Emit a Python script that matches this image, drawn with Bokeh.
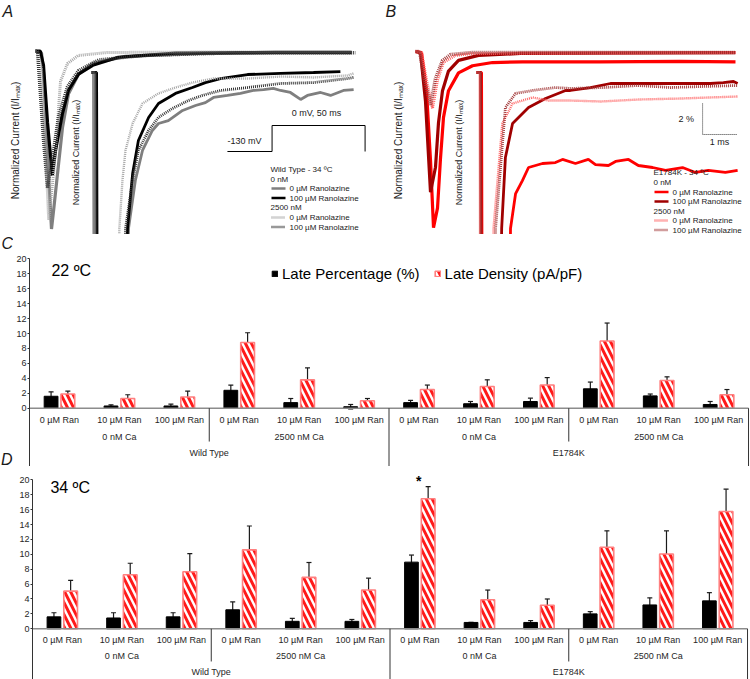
import numpy as np
from bokeh.plotting import figure
from bokeh.layouts import column, row
from bokeh.models import (Range1d, ColumnDataSource, FixedTicker, Legend, LegendItem,
                          Whisker, TeeHead, Spacer)
from bokeh.core.properties import value
from bokeh.embed import file_html
from bokeh.resources import INLINE

FONT = "Liberation Sans"

# ======================= DATA: bar charts (C, D) =======================
genotypes = ["Wild Type", "E1784K"]
calcium = ["0 nM Ca", "2500 nM Ca"]
ranolazine = ["0 µM Ran", "10 µM Ran", "100 µM Ran"]
series_names = ["Late Percentage (%)", "Late Density (pA/pF)"]
temperatures = ["22 ºC", "34 ºC"]
y_ticks = [0, 2, 4, 6, 8, 10, 12, 14, 16, 18, 20]

late_pct_22 = [1.6, 0.3, 0.3, 2.4, 0.75, 0.2, 0.75, 0.6, 0.9, 2.6, 1.65, 0.5]
late_pct_22_err = [0.6, 0.15, 0.25, 0.7, 0.55, 0.3, 0.3, 0.3, 0.45, 0.9, 0.25, 0.4]
late_den_22 = [1.9, 1.3, 1.5, 8.8, 3.8, 1.0, 2.5, 2.9, 3.1, 9.0, 3.7, 1.8]
late_den_22_err = [0.4, 0.5, 0.8, 1.3, 1.6, 0.3, 0.6, 0.9, 1.0, 2.4, 0.5, 0.7]

late_pct_34 = [1.6, 1.45, 1.6, 2.55, 1.0, 1.0, 8.95, 0.85, 0.85, 2.0, 3.2, 3.75]
late_pct_34_err = [0.55, 0.7, 0.55, 1.05, 0.4, 0.25, 0.95, 0.0, 0.25, 0.3, 0.95, 1.1]
late_den_34 = [5.05, 7.25, 7.65, 10.6, 6.9, 5.2, 17.45, 3.9, 3.15, 10.95, 10.05, 15.75]
late_den_34_err = [1.45, 1.55, 2.45, 3.2, 2.0, 1.6, 1.65, 1.3, 0.85, 2.2, 3.1, 3.0]
significant_34 = [6]

# ======================= DATA: current traces (A, B) =======================
trace_labels = ["0 µM Ranolazine", "100 µM Ranolazine"]
conc_labels = ["0 nM", "2500 nM"]

# Panel A, full traces: time (ms), normalized current I/Imax
a_t_0ca_0ran = [0, 0.15, 0.2, 0.3, 0.4, 0.46, 0.55, 0.675, 0.825, 1.075, 1.425, 2.25, 4.25, 6.0, 7.9]
a_i_0ca_0ran = [0, -0.01, -0.12, -0.58, -1.0, -0.88, -0.69, -0.43, -0.24, -0.13, -0.07, -0.03, -0.012, -0.01, -0.01]
a_t_0ca_100ran = [0, 0.12, 0.2, 0.3, 0.42, 0.5, 0.675, 0.825, 1.075, 1.43, 2.07, 3.5, 6.0, 7.9]
a_i_0ca_100ran = [0, 0, -0.08, -0.4, -0.70, -0.56, -0.35, -0.22, -0.13, -0.08, -0.035, -0.012, -0.008, -0.008]
a_t_2500ca_0ran = [0, 0.05, 0.15, 0.25, 0.33, 0.45, 0.55, 0.625, 0.8, 1.07, 1.8, 4.0, 7.9]
a_i_2500ca_0ran = [0, 0, -0.1, -0.55, -0.95, -0.69, -0.41, -0.17, -0.07, -0.025, -0.008, -0.006, -0.006]
a_t_2500ca_100ran = [0, 0.05, 0.125, 0.2, 0.3, 0.45, 0.575, 0.8, 1.075, 1.575, 2.7, 5.0, 8.0]
a_i_2500ca_100ran = [0, 0, -0.25, -0.5, -0.77, -0.56, -0.37, -0.2, -0.11, -0.05, -0.025, -0.01, -0.01]

# Panel A, magnified late current: time (ms), current (% of peak)
a_zt_0ca_0ran = [0, 0.06, 0.12, 0.5, 0.9, 1.09, 1.29, 1.5, 1.79, 1.97, 2.26, 2.68, 3.06, 3.35, 3.59, 4.0,
                 4.38, 4.76, 5.06, 5.35, 5.56, 5.85, 6.15, 6.35, 6.74, 7.03, 7.41, 7.71]
a_zp_0ca_0ran = [0, 0, -60, -100, -30, -10.06, -6.97, -5.03, -3.74, -3.29, -3.10, -2.45, -2.13, -1.94, -1.61,
                 -1.48, -1.35, -1.16, -1.10, -1.03, -1.16, -1.29, -1.74, -1.48, -1.29, -1.48, -1.16, -1.10]
a_zt_0ca_100ran = [0, 0.15, 0.21, 0.5, 0.85, 1.06, 1.21, 1.38, 1.68, 1.97, 2.47, 2.97, 3.35, 3.79, 4.59,
                   5.56, 6.53, 7.32]
a_zp_0ca_100ran = [0, 0, -50, -70, -30, -10.06, -6.52, -4.39, -2.90, -2.0, -1.35, -0.97, -0.65, -0.39,
                   -0.13, -0.06, 0.0, 0.06]
a_zt_2500ca_0ran = [0, 0.09, 0.15, 0.4, 0.7, 0.82, 0.91, 1.0, 1.21, 1.5, 1.97, 2.47, 2.97, 3.59, 4.59,
                    5.56, 6.53, 7.53, 7.71]
a_zp_2500ca_0ran = [0, 0, -55, -95, -30, -10.06, -6.97, -5.03, -3.29, -2.0, -1.35, -0.97, -0.65, -0.39,
                    -0.39, -0.26, -0.32, -0.19, -0.06]
a_zt_2500ca_100ran = [0, 0.12, 0.18, 0.45, 0.8, 1.0, 1.21, 1.38, 1.68, 1.97, 2.38, 2.85, 3.26, 3.79, 4.59,
                      5.56, 6.53, 7.53, 7.71]
a_zp_2500ca_100ran = [0, 0, -50, -75, -30, -10.06, -6.97, -5.03, -3.74, -2.90, -2.32, -1.81, -1.48, -1.16,
                      -0.97, -0.71, -0.65, -0.39, -0.32]

# Panel B, full traces
b_t_0ca_0ran = [0, 0.15, 0.275, 0.375, 0.45, 0.55, 0.625, 0.7, 0.825, 1.075, 1.425, 1.925, 2.675, 4.6, 6.6, 8.0]
b_i_0ca_0ran = [0, -0.006, -0.22, -0.61, -0.99, -0.88, -0.60, -0.37, -0.22, -0.12, -0.08, -0.062, -0.058,
                -0.058, -0.056, -0.058]
b_t_0ca_100ran = [0, 0.125, 0.25, 0.375, 0.5, 0.575, 0.675, 0.825, 1.075, 1.575, 2.625, 8.0]
b_i_0ca_100ran = [0, -0.006, -0.28, -0.79, -0.65, -0.40, -0.22, -0.11, -0.05, -0.022, -0.011, -0.006]
b_t_2500ca_0ran = [0, 0.15, 0.275, 0.425, 0.55, 0.7, 1.0, 1.425, 8.0]
b_i_2500ca_0ran = [0, -0.006, -0.16, -0.32, -0.16, -0.06, -0.022, -0.011, -0.006]
b_t_2500ca_100ran = [0, 0.1, 0.225, 0.375, 0.5, 0.675, 0.875, 1.375, 8.0]
b_i_2500ca_100ran = [0, 0, -0.16, -0.30, -0.15, -0.05, -0.017, -0.006, -0.006]

# Panel B, magnified late current
b_zt_0ca_0ran = [0, 0.15, 0.2, 0.5, 0.9, 1.0, 1.15, 1.35, 1.53, 1.94, 2.32, 2.53, 2.91, 3.29, 3.5, 3.88,
                 4.09, 4.47, 4.76, 5.18, 5.56, 6.06, 6.44, 6.82, 7.32, 7.68]
b_zp_0ca_0ran = [0, 0, -50, -100, -30, -10.06, -7.81, -6.97, -6.13, -5.87, -5.81, -5.61, -5.87, -5.61,
                 -5.94, -6.0, -5.74, -5.61, -6.0, -6.13, -6.32, -6.13, -6.45, -6.32, -6.45, -6.32]
b_zt_0ca_100ran = [0, 0.12, 0.16, 0.4, 0.62, 0.74, 0.85, 1.06, 1.53, 2.03, 2.62, 2.76, 3.35, 3.94, 4.53,
                   5.12, 5.71, 6.29, 6.88, 7.26, 7.56, 7.68]
b_zp_0ca_100ran = [0, 0, -40, -80, -30, -10.06, -5.48, -3.29, -2.26, -1.68, -1.16, -1.16, -0.97, -0.71,
                   -0.71, -0.71, -0.71, -0.71, -0.71, -0.65, -0.58, -0.71]
b_zt_2500ca_0ran = [0, 0.09, 0.15, 0.35, 0.45, 0.5, 0.76, 1.06, 1.65, 2.12, 2.76, 3.65, 4.82, 6.0, 6.88, 7.68]
b_zp_2500ca_0ran = [0, 0, -50, -100, -30, -10.06, -3.29, -2.0, -1.61, -1.81, -1.81, -1.87, -1.74, -1.68,
                    -1.61, -1.55]
b_zt_2500ca_100ran = [0, 0.12, 0.18, 0.38, 0.48, 0.56, 0.85, 1.15, 1.65, 2.32, 2.76, 3.74, 4.74, 5.71, 6.68, 7.68]
b_zp_2500ca_100ran = [0, 0, -50, -90, -30, -10.06, -2.26, -1.35, -1.16, -0.97, -1.03, -0.97, -0.84, -0.97,
                      -0.90, -0.84]

# Voltage protocol (ms, mV)
protocol_t = [0, 24, 24, 74, 74]
protocol_mv = [-130, -130, 0, 0, -130]
protocol_texts = ["0 mV, 50 ms", "-130 mV"]
scale_bar_pct = 2
scale_bar_ms = 1

# ======================= STYLE =======================
A_COLORS = ["#7f7f7f", "#000000", "#a6a6a6", "#333333"]
B_COLORS = ["#ff0000", "#a00000", "#ff6464", "#a33a3a"]
DASHES = ["solid", "solid", "1 1", "1 1"]
WIDTHS = [3.2, 3.2, 3.0, 3.4]
INSET_WIDTHS = [2.8, 2.8, 2.4, 2.8]
TXT = "#1a1a1a"


def trace_figure(x_main, y_main, x_inset):
    p = figure(width=375, height=234, x_range=Range1d(*x_main), y_range=Range1d(*y_main),
               x_axis_location=None, y_axis_location=None, toolbar_location=None,
               output_backend="svg", min_border=0, outline_line_color=None)
    p.extra_x_ranges = {"inset": Range1d(*x_inset), "px": Range1d(0, 375),
                        "prot": Range1d(-122.0, 79.6)}
    p.extra_y_ranges = {"inset": Range1d(-10.452, 4.645), "px": Range1d(234, 0),
                        "prot": Range1d(-545, 625)}
    p.grid.visible = False
    return p


def draw_traces(p, mains, insets, colors):
    for (t, i), c, d, w in zip(mains, colors, DASHES, WIDTHS):
        p.line(t, i, line_color=c, line_width=w, line_dash=d)
    for (t, v), c, d, w in zip(insets, colors, DASHES, INSET_WIDTHS):
        p.line(t, v, line_color=c, line_width=w, line_dash=d,
               x_range_name="inset", y_range_name="inset")


def txt(p, x, y, s, size, align="left", angle=0.0, style="normal", rng="px", baseline="middle"):
    p.text(x=[x], y=[y], text=[s], text_font=value(FONT), text_font_size=size,
           text_align=align, text_baseline=baseline, angle=angle, text_font_style=style,
           text_color=TXT, x_range_name=rng, y_range_name=rng)


def trace_legend(p, x0, ys, title, colors):
    txt(p, x0, ys[0], title, "8px")
    txt(p, x0, ys[1], conc_labels[0], "8px")
    txt(p, x0, ys[4], conc_labels[1], "8px")
    for k, yy in enumerate([ys[2], ys[3], ys[5], ys[6]]):
        p.line([x0 + 1, x0 + 15], [yy, yy], line_color=colors[k], line_width=2.6,
               line_dash=DASHES[k], x_range_name="px", y_range_name="px")
        txt(p, x0 + 19, yy, trace_labels[k % 2], "8px")


# ---------- Panel A ----------
pA = trace_figure((-0.875, 8.5), (-1.031, 0.284), (-2.676, 8.353))
draw_traces(pA,
            [(a_t_0ca_0ran, a_i_0ca_0ran), (a_t_0ca_100ran, a_i_0ca_100ran),
             (a_t_2500ca_0ran, a_i_2500ca_0ran), (a_t_2500ca_100ran, a_i_2500ca_100ran)],
            [(a_zt_0ca_0ran, a_zp_0ca_0ran), (a_zt_0ca_100ran, a_zp_0ca_100ran),
             (a_zt_2500ca_0ran, a_zp_2500ca_0ran), (a_zt_2500ca_100ran, a_zp_2500ca_100ran)],
            A_COLORS)
pA.line(protocol_t, protocol_mv, line_color="black", line_width=1,
        x_range_name="prot", y_range_name="prot")
txt(pA, 316, 112, protocol_texts[0], "9px", align="center")
txt(pA, 227, 140, protocol_texts[1], "9px")
txt(pA, 2, 11, "A", "16px", style="italic")
txt(pA, 15, 140, "Normalized Current (I/Iₘₐₓ)", "10px", align="center", angle=np.pi / 2)
txt(pA, 75, 152, "Normalized Current (I/Iₘₐₓ)", "9px", align="center", angle=np.pi / 2)
trace_legend(pA, 270, [169, 178.5, 188, 197.5, 207, 217, 226.5], "Wild Type - 34 ºC", A_COLORS)

# ---------- Panel B ----------
pB = trace_figure((-1.0, 8.375), (-1.028, 0.2865), (-2.971, 8.059))
draw_traces(pB,
            [(b_t_0ca_0ran, b_i_0ca_0ran), (b_t_0ca_100ran, b_i_0ca_100ran),
             (b_t_2500ca_0ran, b_i_2500ca_0ran), (b_t_2500ca_100ran, b_i_2500ca_100ran)],
            [(b_zt_0ca_0ran, b_zp_0ca_0ran), (b_zt_0ca_100ran, b_zp_0ca_100ran),
             (b_zt_2500ca_0ran, b_zp_2500ca_0ran), (b_zt_2500ca_100ran, b_zp_2500ca_100ran)],
            B_COLORS)
sb_t0, sb_p0 = 6.65, -2.0
pB.line([sb_t0, sb_t0, sb_t0 + scale_bar_ms], [sb_p0, sb_p0 - scale_bar_pct, sb_p0 - scale_bar_pct],
        line_color="#333333", line_width=1, line_dash="1 1",
        x_range_name="inset", y_range_name="inset")
txt(pB, sb_t0 - 0.25, sb_p0 - scale_bar_pct / 2, f"{scale_bar_pct} %", "9px", align="right", rng="inset")
txt(pB, sb_t0 + scale_bar_ms / 2, sb_p0 - scale_bar_pct - 0.15, f"{scale_bar_ms} ms", "9px",
    align="center", rng="inset", baseline="top")
txt(pB, 10, 11, "B", "16px", style="italic")
txt(pB, 23, 140, "Normalized Current (I/Iₘₐₓ)", "10px", align="center", angle=np.pi / 2)
txt(pB, 83, 152, "Normalized Current (I/Iₘₐₓ)", "9px", align="center", angle=np.pi / 2)
trace_legend(pB, 278, [172, 181.5, 191.5, 201, 210.5, 220, 229.5], "E1784K - 34 ºC", B_COLORS)


# ---------- Bar panels ----------
def bar_figure(width, height, border_left, y_lo, y_hi, x_hi, pct, pct_err, den, den_err,
               temp_label, temp_xy, label_y, legend_loc=None):
    p = figure(width=width, height=height, x_range=Range1d(0, x_hi), y_range=Range1d(y_lo, y_hi),
               x_axis_location=None, toolbar_location=None, output_backend="svg",
               min_border_left=border_left, min_border_right=0, min_border_top=0,
               min_border_bottom=0, outline_line_color=None)
    p.grid.visible = False
    ax = p.yaxis[0]
    ax.ticker = FixedTicker(ticks=y_ticks)
    ax.bounds = (y_lo, y_ticks[-1])
    ax.major_label_text_font = FONT
    ax.major_label_text_font_size = "9px"
    ax.major_label_text_color = "#262626"
    ax.major_tick_out = 2
    ax.major_tick_in = 0
    ax.major_label_standoff = 1
    ax.minor_tick_line_color = None
    ax.axis_line_color = "#333333"
    ax.major_tick_line_color = "#333333"

    n = len(genotypes) * len(calcium) * len(ranolazine)
    centers = np.arange(n) + 0.5
    bx = centers - 0.14
    rx = centers + 0.14
    r_black = p.vbar(x=bx, top=pct, width=0.23, fill_color="black", line_color="black", line_width=1)
    r_red = p.vbar(x=rx, top=den, width=0.23, fill_color="white", line_color="#ff8080", line_width=1.6,
                   hatch_pattern="left_diagonal_line", hatch_color="#ff1a1a", hatch_weight=3.0,
                   hatch_scale=12)
    for xs, v, e in ((bx, pct, pct_err), (rx, den, den_err)):
        v = np.array(v); e = np.array(e)
        src = ColumnDataSource(dict(x=xs, lo=v - e, hi=v + e))
        p.add_layout(Whisker(source=src, base="x", lower="lo", upper="hi", line_color="#1a1a1a",
                             line_width=1.2,
                             upper_head=TeeHead(size=5, line_width=1.2, line_color="#1a1a1a"),
                             lower_head=TeeHead(size=5, line_width=1.2, line_color="#1a1a1a")))

    # category axis drawn Excel-style
    p.segment(x0=[0], y0=[0], x1=[n], y1=[0], line_color="#8c8c8c", line_width=1.5)
    nr = len(ranolazine)
    sub_b = [nr * (k + 1) for k in range(len(genotypes) * len(calcium)) if (k + 1) % len(calcium)]
    grp_b = [nr * len(calcium) * (k + 1) for k in range(len(genotypes))]
    p.segment(x0=sub_b, y0=[0] * len(sub_b), x1=sub_b, y1=[label_y[3]] * len(sub_b),
              line_color="#333333", line_width=1)
    p.segment(x0=grp_b, y0=[0] * len(grp_b), x1=grp_b, y1=[y_lo] * len(grp_b),
              line_color="#333333", line_width=1)
    cats = [r for g in genotypes for c in calcium for r in ranolazine]
    subs = [c for g in genotypes for c in calcium]
    tk = dict(text_font=value(FONT), text_font_size="9px", text_align="center",
              text_baseline="middle", text_color="#262626")
    p.text(x=centers, y=[label_y[0]] * n, text=cats, **tk)
    p.text(x=[nr * k + nr / 2 for k in range(len(subs))], y=[label_y[1]] * len(subs), text=subs, **tk)
    p.text(x=[nr * len(calcium) * (k + 0.5) for k in range(len(genotypes))],
           y=[label_y[2]] * len(genotypes), text=genotypes, **tk)

    p.text(x=[temp_xy[0]], y=[temp_xy[1]], text=[temp_label], text_font=value(FONT),
           text_font_size="16px", text_baseline="middle", text_color="black")
    if legend_loc is not None:
        leg = Legend(items=[LegendItem(label=series_names[0], renderers=[r_black]),
                            LegendItem(label=series_names[1], renderers=[r_red])],
                     location=legend_loc, orientation="horizontal", glyph_width=7, glyph_height=7,
                     label_text_font=FONT, label_text_font_size="15px", label_standoff=4,
                     spacing=14, padding=0, margin=0, border_line_color=None,
                     background_fill_alpha=0, label_text_color="black")
        p.add_layout(leg)
    return p, centers


# panel letters C and D live in a narrow strip left of the C axis
letters = figure(width=13, height=232, x_range=Range1d(0, 13), y_range=Range1d(232, 0),
                 x_axis_location=None, y_axis_location=None, toolbar_location=None,
                 output_backend="svg", min_border=0, outline_line_color=None)
letters.grid.visible = False
letters.text(x=[1.0, 0.5], y=[8.5, 224.5], text=["C", "D"], text_font=value(FONT),
             text_font_size="16px", text_font_style="italic", text_baseline="middle",
             text_color=TXT)

pC, _ = bar_figure(737, 232, 13, -7.80, 23.25, 12.033, late_pct_22, late_pct_22_err, late_den_22,
                   late_den_22_err, temperatures[0], (0.366, 18.43), [-1.51, -3.79, -6.06, -4.46],
                   legend_loc=(242, 184))

pD, centersD = bar_figure(734, 213, 14, -6.81, 21.79, 12.05, late_pct_34, late_pct_34_err, late_den_34,
                          late_den_34_err, temperatures[1], (0.30, 18.97), [-1.57, -3.72, -5.87, -4.39])
pD.text(x=[centersD[i] - 0.02 for i in significant_34], y=[19.9] * len(significant_34),
        text=["*"] * len(significant_34), text_font=value(FONT), text_font_size="14px",
        text_font_style="bold", text_align="center", text_baseline="middle", text_color="black")

layout = column(row(pA, pB), row(letters, pC), row(Spacer(width=16, height=213), pD))
open("out.html", "w").write(file_html(layout, INLINE))
